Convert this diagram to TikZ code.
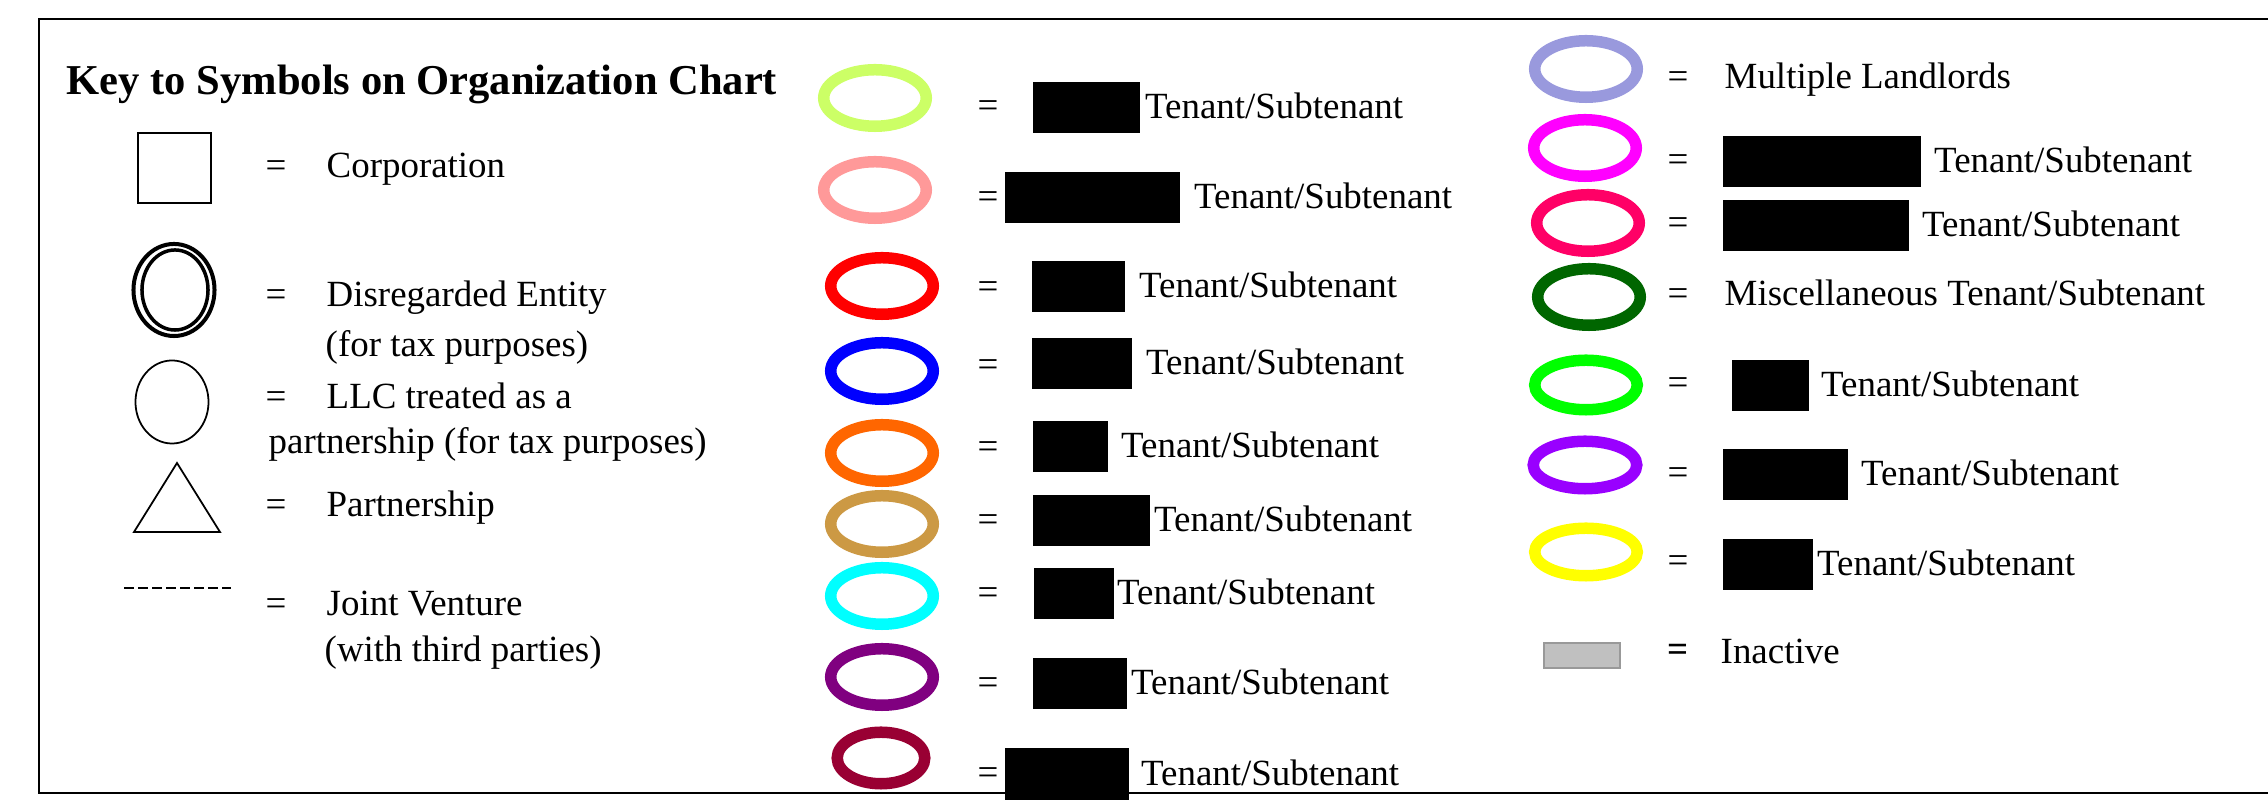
\documentclass[tikz,border=0pt]{standalone}
\usepackage{fontspec}
\setmainfont{Liberation Serif}
\usetikzlibrary{shapes.geometric,positioning}

\newcommand{\legfont}{\fontsize{10.5}{12.6}\selectfont}
\definecolor{tlime}{HTML}{CCFF66}
\definecolor{tpink}{HTML}{FF9999}
\definecolor{tred}{HTML}{FF0000}
\definecolor{tblue}{HTML}{0000FF}
\definecolor{torange}{HTML}{FF6600}
\definecolor{ttan}{HTML}{CC9944}
\definecolor{tcyan}{HTML}{00FFFF}
\definecolor{tpurple}{HTML}{800080}
\definecolor{tmaroon}{HTML}{990033}
\definecolor{tlavender}{HTML}{9999DD}
\definecolor{tmagenta}{HTML}{FF00FF}
\definecolor{trose}{HTML}{FF0066}
\definecolor{tforest}{HTML}{006600}
\definecolor{tgreen}{HTML}{00FF00}
\definecolor{tviolet}{HTML}{9900FF}
\definecolor{tyellow}{HTML}{FFFF00}

\begin{document}
\begin{tikzpicture}[x=0.01cm, y=-0.01cm,
  ring/.style={ellipse, draw=#1, line width=0.115cm, minimum width=1.025cm, minimum height=0.565cm, inner sep=0pt},
  redact/.style={fill=black, minimum height=0.51cm, inner sep=0pt, anchor=west},
  lbl/.style={font=\legfont, inner sep=0pt, text height=7.9pt, text depth=1.6pt},
  txt/.style={font=\legfont, inner sep=0pt, anchor=base west}]

  \useasboundingbox (0,0) rectangle (2268,804);
  \draw[line width=0.023cm] (2280,19) -| (39,793) -- (2280,793);

  \node[font=\fontsize{12.1}{14.5}\selectfont\bfseries, inner sep=0pt, anchor=base west] (title) at (66,95) {Key to Symbols on Organization Chart};

  \node[rectangle, draw, line width=0.5pt, minimum width=0.73cm, minimum height=0.70cm, inner sep=0pt] (corp) at (174.5,168) {};
    \node[txt] (corp_eq) at (265,178) {=};
    \node[txt] (corp_t) at (326,178) {Corporation};

  \node[ellipse, draw, line width=0.04cm, minimum width=0.81cm, minimum height=0.92cm, inner sep=0pt] (dis) at (174,290) {};
  \node[ellipse, draw, line width=0.035cm, minimum width=0.66cm, minimum height=0.80cm, inner sep=0pt] (dis_in) at (175,290) {};
    \node[txt] (dis_eq) at (265,307) {=};
    \node[txt] (dis_t) at (326,307) {Disregarded Entity};
    \node[txt] (dis_t2) at (325,357) {(for tax purposes)};

  \node[ellipse, draw, line width=0.5pt, minimum width=0.73cm, minimum height=0.83cm, inner sep=0pt] (llc) at (172,402) {};
    \node[txt] (llc_eq) at (265,409) {=};
    \node[txt] (llc_t) at (326,409) {LLC treated as a};
    \node[txt] (llc_t2) at (268,454) {partnership (for tax purposes)};

  \draw[line width=0.5pt] (177,463) -- (220,532) -- (134,532) -- cycle;
    \node[txt] (ps_eq) at (265,517) {=};
    \node[txt] (ps_t) at (326,517) {Partnership};

  \coordinate (jv_a) at (124,588);
  \coordinate (jv_b) at (231,588);
  \draw[line width=0.5pt, dash pattern=on 0.095cm off 0.045cm] (jv_a) -- (jv_b);
    \node[txt] (jv_eq) at (265,616) {=};
    \node[txt] (jv_t) at (326,616) {Joint Venture};
    \node[txt] (jv_t2) at (324,662) {(with third parties)};

  % middle column
  \node[ring=tlime] (m1) at (875,98) {};
    \node[txt] (m1_eq) at (977,118) {=};
    \node[redact, minimum width=1.07cm] (m1_box) at (1032,107.5) {};
    \node[lbl, right=0.04cm of m1_box] (m1_t) {Tenant/Subtenant};

  \node[ring=tpink] (m2) at (875,190) {};
    \node[txt] (m2_eq) at (977,209) {=};
    \node[redact, minimum width=1.75cm] (m2_box) at (1004,197.5) {};
    \node[lbl, right=0.13cm of m2_box] (m2_t) {Tenant/Subtenant};

  \node[ring=tred] (m3) at (882,286) {};
    \node[txt] (m3_eq) at (977,299) {=};
    \node[redact, minimum width=0.93cm] (m3_box) at (1031,286.5) {};
    \node[lbl, right=0.13cm of m3_box] (m3_t) {Tenant/Subtenant};

  \node[ring=tblue] (m4) at (882,371) {};
    \node[txt] (m4_eq) at (977,377) {=};
    \node[redact, minimum width=1.00cm] (m4_box) at (1031,363.5) {};
    \node[lbl, right=0.13cm of m4_box] (m4_t) {Tenant/Subtenant};

  \node[ring=torange] (m5) at (882,453) {};
    \node[txt] (m5_eq) at (977,459) {=};
    \node[redact, minimum width=0.75cm] (m5_box) at (1032,446.5) {};
    \node[lbl, right=0.12cm of m5_box] (m5_t) {Tenant/Subtenant};

  \node[ring=ttan] (m6) at (882,524) {};
    \node[txt] (m6_eq) at (977,532) {=};
    \node[redact, minimum width=1.17cm] (m6_box) at (1032,520.5) {};
    \node[lbl, right=0.03cm of m6_box] (m6_t) {Tenant/Subtenant};

  \node[ring=tcyan] (m7) at (882,596) {};
    \node[txt] (m7_eq) at (977,605) {=};
    \node[redact, minimum width=0.80cm] (m7_box) at (1033,593.5) {};
    \node[lbl, right=0.02cm of m7_box] (m7_t) {Tenant/Subtenant};

  \node[ring=tpurple] (m8) at (882,677) {};
    \node[txt] (m8_eq) at (977,695) {=};
    \node[redact, minimum width=0.94cm] (m8_box) at (1032,683.5) {};
    \node[lbl, right=0.03cm of m8_box] (m8_t) {Tenant/Subtenant};

  \node[ring=tmaroon, minimum width=0.875cm, minimum height=0.515cm] (m9) at (881,758) {};
    \node[txt] (m9_eq) at (977,785) {=};
    \node[redact, minimum width=1.24cm, minimum height=0.52cm] (m9_box) at (1004,774) {};
    \node[lbl, right=0.11cm of m9_box] (m9_t) {Tenant/Subtenant};

  % right column
  \node[ring=tlavender] (r1) at (1586,69) {};
    \node[txt] (r1_eq) at (1667,89) {=};
    \node[txt] (r1_t) at (1724,89) {Multiple Landlords};

  \node[ring=tmagenta] (r2) at (1585,148) {};
    \node[txt] (r2_eq) at (1667,172) {=};
    \node[redact, minimum width=1.98cm] (r2_box) at (1722,161.5) {};
    \node[lbl, right=0.12cm of r2_box] (r2_t) {Tenant/Subtenant};

  \node[ring=trose] (r3) at (1588,223) {};
    \node[txt] (r3_eq) at (1667,235) {=};
    \node[redact, minimum width=1.86cm] (r3_box) at (1722,225.5) {};
    \node[lbl, right=0.12cm of r3_box] (r3_t) {Tenant/Subtenant};

  \node[ring=tforest] (r4) at (1589,297) {};
    \node[txt] (r4_eq) at (1667,306) {=};
    \node[txt] (r4_t) at (1724,306) {Miscellaneous Tenant/Subtenant};

  \node[ring=tgreen, minimum height=0.495cm] (r5) at (1586,385) {};
    \node[txt] (r5_eq) at (1667,395) {=};
    \node[redact, minimum width=0.77cm] (r5_box) at (1731,385.5) {};
    \node[lbl, right=0.11cm of r5_box] (r5_t) {Tenant/Subtenant};

  \node[ring=tviolet, minimum width=1.035cm, minimum height=0.475cm] (r6) at (1585,465) {};
    \node[txt] (r6_eq) at (1667,485) {=};
    \node[redact, minimum width=1.25cm] (r6_box) at (1722,474.5) {};
    \node[lbl, right=0.12cm of r6_box] (r6_t) {Tenant/Subtenant};

  \node[ring=tyellow, minimum height=0.475cm] (r7) at (1586,552) {};
    \node[txt] (r7_eq) at (1667,573) {=};
    \node[redact, minimum width=0.90cm] (r7_box) at (1722,564.5) {};
    \node[lbl, right=0.03cm of r7_box] (r7_t) {Tenant/Subtenant};

  \node[rectangle, fill={rgb,255:red,192;green,192;blue,192}, draw={rgb,255:red,153;green,153;blue,153}, line width=0.02cm, minimum width=0.76cm, minimum height=0.25cm, inner sep=0pt] (inact) at (1582,655.5) {};
    \node[txt, font=\legfont\bfseries] (inact_eq) at (1667,662) {=};
    \node[txt] (inact_t) at (1720,664) {Inactive};

\end{tikzpicture}
\end{document}
